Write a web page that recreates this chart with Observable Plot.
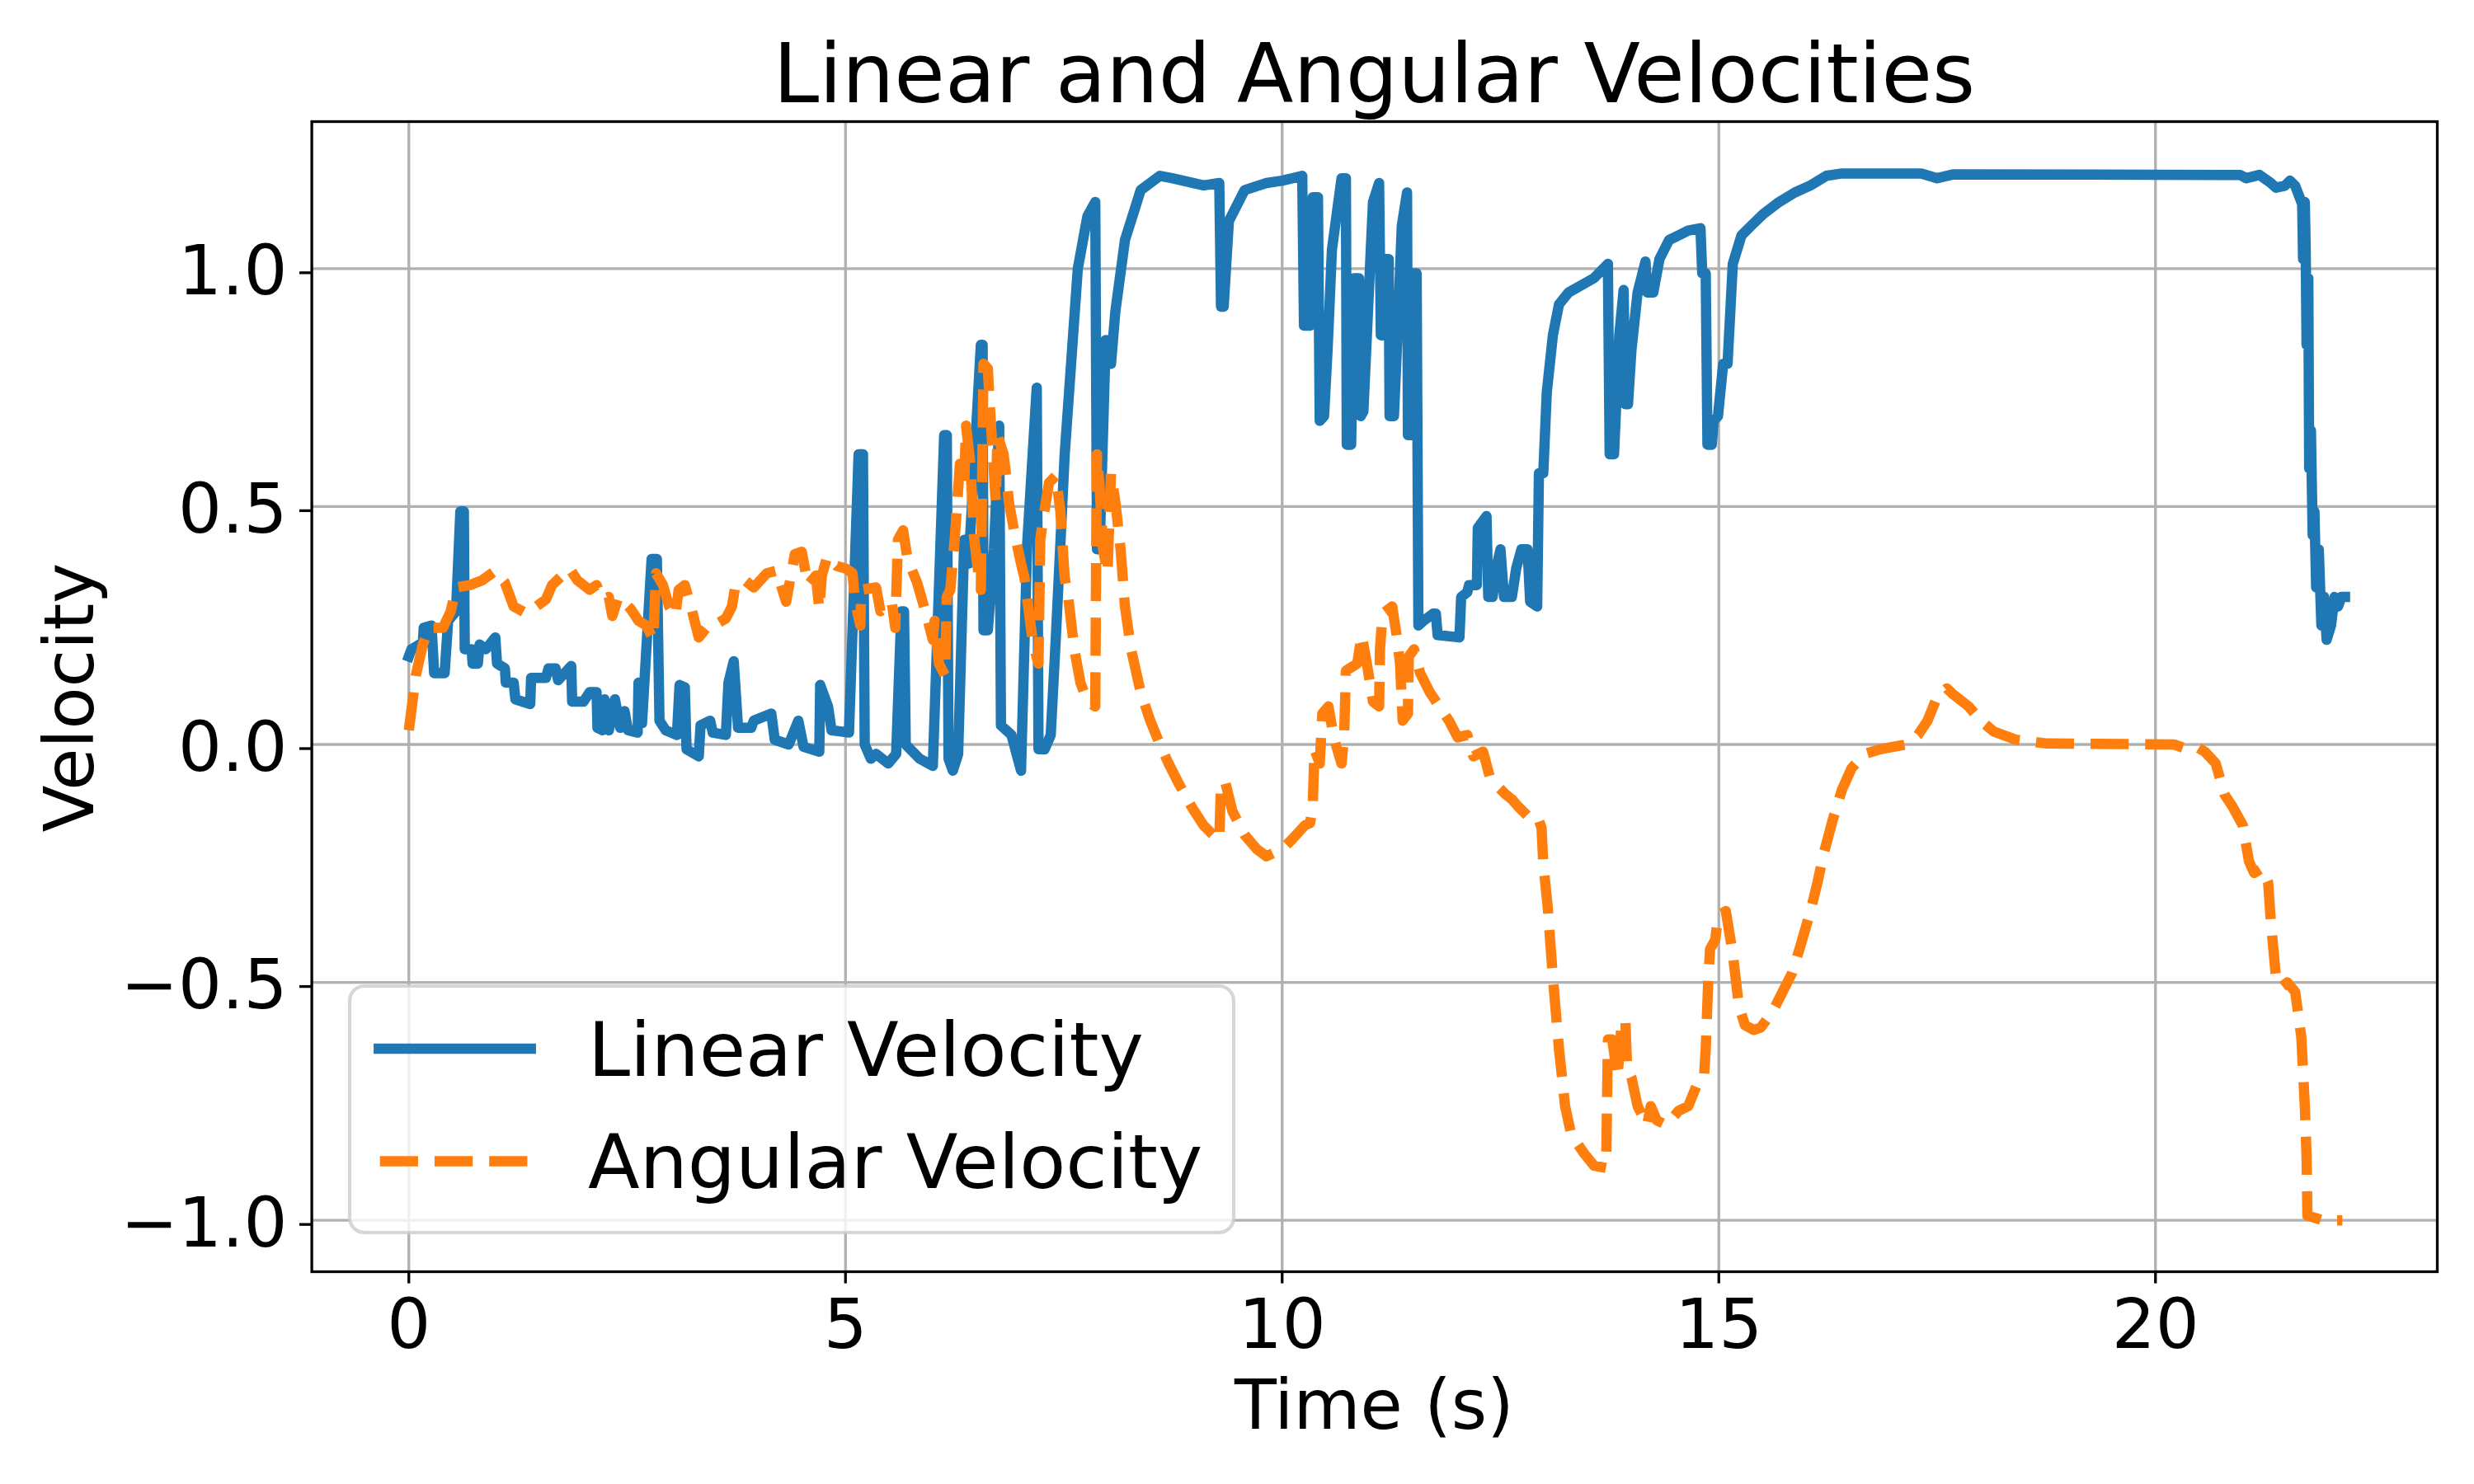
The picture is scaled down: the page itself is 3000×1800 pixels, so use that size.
<!DOCTYPE html>
<html>
<head>
<meta charset="utf-8">
<script src="https://cdn.jsdelivr.net/npm/d3@7"></script>
<script src="https://cdn.jsdelivr.net/npm/@observablehq/plot@0.6"></script>
<style>
  html, body { margin: 0; padding: 0; background: white; }
  svg { display: block; }
</style>
</head>
<body>
<div id="chart"></div>
<script>
const titleText = "Linear and Angular Velocities";
const xLabel = "Time (s)";
const yLabel = "Velocity";
const seriesNames = ["Linear Velocity", "Angular Velocity"];
const seriesColors = ["#1f77b4", "#ff7f0e"];
const xTicks = [0, 5, 10, 15, 20];
const yTicks = [-1.0, -0.5, 0.0, 0.5, 1.0];

const linearTime = [0.00,0.03,0.12,0.16,0.17,0.26,0.29,0.41,0.45,0.54,0.59,0.63,0.64,0.72,0.73,0.79,0.81,0.88,0.99,1.01,1.10,1.11,1.20,1.22,1.39,1.40,1.57,1.60,1.68,1.71,1.86,1.87,2.00,2.07,2.15,2.16,2.22,2.24,2.29,2.36,2.42,2.47,2.51,2.62,2.63,2.67,2.78,2.84,2.87,2.94,3.07,3.10,3.16,3.18,3.32,3.34,3.45,3.48,3.63,3.66,3.72,3.77,3.92,3.95,4.15,4.19,4.35,4.46,4.52,4.70,4.71,4.80,4.84,5.04,5.15,5.20,5.22,5.29,5.35,5.49,5.58,5.64,5.67,5.69,5.85,6.00,6.13,6.16,6.18,6.23,6.29,6.36,6.41,6.55,6.57,6.58,6.63,6.70,6.76,6.78,6.90,7.01,7.08,7.19,7.21,7.28,7.35,7.41,7.51,7.66,7.77,7.86,7.88,7.91,7.98,8.04,8.09,8.20,8.38,8.60,8.74,9.10,9.28,9.30,9.33,9.39,9.57,9.82,10.00,10.23,10.25,10.32,10.35,10.41,10.43,10.48,10.52,10.57,10.68,10.73,10.74,10.79,10.82,10.88,10.90,10.93,10.97,11.04,11.11,11.13,11.16,11.18,11.22,11.23,11.28,11.32,11.37,11.43,11.44,11.48,11.49,11.54,11.56,11.62,11.73,11.76,11.78,12.03,12.05,12.12,12.14,12.23,12.24,12.34,12.36,12.41,12.45,12.50,12.54,12.63,12.68,12.74,12.81,12.84,12.92,12.94,12.99,13.03,13.10,13.17,13.28,13.57,13.73,13.75,13.80,13.86,13.91,13.93,13.96,14.00,14.07,14.16,14.18,14.25,14.32,14.43,14.65,14.79,14.81,14.85,14.87,14.92,14.94,14.99,15.05,15.10,15.16,15.26,15.37,15.51,15.69,15.87,16.05,16.23,16.41,17.32,17.50,17.68,20.75,20.97,21.04,21.19,21.32,21.38,21.48,21.54,21.60,21.65,21.68,21.69,21.71,21.72,21.73,21.75,21.76,21.78,21.80,21.82,21.84,21.87,21.90,21.93,21.96,22.01,22.05,22.09,22.13,22.17];
const linearVel = [0.185,0.20,0.21,0.21,0.245,0.25,0.15,0.15,0.26,0.28,0.49,0.49,0.20,0.20,0.17,0.17,0.21,0.20,0.225,0.17,0.16,0.13,0.13,0.095,0.085,0.14,0.14,0.16,0.16,0.135,0.165,0.09,0.09,0.11,0.11,0.035,0.03,0.095,0.03,0.095,0.035,0.07,0.03,0.025,0.13,0.045,0.39,0.39,0.05,0.03,0.02,0.125,0.12,-0.01,-0.025,0.04,0.05,0.025,0.02,0.13,0.175,0.035,0.035,0.05,0.065,0.01,0.0,0.05,-0.005,-0.015,0.125,0.08,0.03,0.025,0.61,0.61,0.0,-0.03,-0.02,-0.04,-0.02,0.28,0.28,0.0,-0.03,-0.045,0.65,0.65,-0.03,-0.055,-0.02,0.43,0.38,0.84,0.84,0.24,0.24,0.41,0.67,0.04,0.02,-0.055,0.42,0.75,-0.01,-0.01,0.02,0.23,0.61,1.0,1.11,1.14,0.41,0.41,0.85,0.80,0.91,1.06,1.165,1.195,1.19,1.175,1.18,0.92,0.92,1.10,1.165,1.18,1.185,1.195,0.88,0.88,1.15,1.15,0.68,0.69,0.83,1.04,1.19,1.19,0.63,0.63,0.98,0.98,0.69,0.70,0.86,1.14,1.18,0.86,0.86,1.02,1.02,0.69,0.69,0.86,1.09,1.16,0.65,0.65,0.99,0.99,0.25,0.26,0.275,0.275,0.23,0.225,0.31,0.32,0.335,0.335,0.455,0.48,0.31,0.31,0.37,0.41,0.31,0.31,0.37,0.41,0.41,0.30,0.29,0.57,0.57,0.74,0.86,0.925,0.95,0.98,1.01,0.61,0.61,0.86,0.955,0.715,0.715,0.83,0.95,1.015,0.95,0.95,1.02,1.06,1.08,1.085,0.99,0.99,0.63,0.63,0.68,0.69,0.80,0.80,1.01,1.07,1.09,1.115,1.14,1.16,1.175,1.195,1.20,1.20,1.19,1.198,1.197,1.197,1.19,1.197,1.18,1.17,1.174,1.185,1.174,1.15,1.135,1.02,1.14,1.04,0.84,0.98,0.58,0.66,0.44,0.49,0.33,0.41,0.25,0.31,0.22,0.25,0.31,0.29,0.31,0.31];

const angularTime = [0.00,0.08,0.16,0.23,0.39,0.48,0.54,0.70,0.84,0.99,1.10,1.20,1.35,1.57,1.64,1.84,1.93,2.07,2.15,2.22,2.29,2.33,2.40,2.54,2.63,2.72,2.80,2.83,2.91,2.98,3.05,3.09,3.16,3.23,3.32,3.45,3.54,3.63,3.70,3.74,3.85,3.95,4.10,4.21,4.32,4.42,4.50,4.57,4.66,4.70,4.73,4.79,4.90,5.00,5.08,5.11,5.17,5.18,5.35,5.40,5.53,5.57,5.60,5.66,5.71,5.82,5.93,6.00,6.02,6.07,6.14,6.16,6.20,6.25,6.31,6.36,6.38,6.43,6.47,6.50,6.55,6.58,6.63,6.65,6.68,6.72,6.74,6.81,6.85,6.87,6.94,7.01,7.05,7.12,7.15,7.21,7.23,7.26,7.33,7.41,7.46,7.51,7.55,7.62,7.69,7.77,7.86,7.87,7.88,7.91,7.95,8.00,8.04,8.09,8.15,8.20,8.27,8.38,8.49,8.60,8.70,8.81,8.96,9.10,9.21,9.28,9.30,9.35,9.43,9.57,9.71,9.82,10.00,10.11,10.26,10.32,10.35,10.37,10.43,10.46,10.53,10.59,10.68,10.71,10.73,10.86,10.91,10.97,11.04,11.11,11.12,11.15,11.26,11.31,11.35,11.38,11.44,11.45,11.51,11.58,11.69,11.91,12.01,12.12,12.19,12.30,12.38,12.45,12.56,12.63,12.70,12.81,12.92,12.97,12.99,13.04,13.10,13.17,13.24,13.31,13.46,13.57,13.71,13.73,13.78,13.84,13.89,13.93,13.95,14.00,14.07,14.18,14.22,14.29,14.40,14.54,14.65,14.76,14.83,14.85,14.88,14.90,14.96,14.99,15.08,15.16,15.23,15.30,15.40,15.48,15.62,15.73,15.84,15.94,16.05,16.13,16.20,16.31,16.41,16.52,16.67,16.85,17.14,17.28,17.39,17.50,17.61,17.68,17.86,18.00,18.15,18.40,18.76,20.21,20.32,20.46,20.57,20.69,20.79,20.88,21.00,21.07,21.13,21.22,21.29,21.32,21.38,21.44,21.51,21.60,21.67,21.71,21.73,21.74,21.92,22.14];
const angularVel = [0.03,0.145,0.21,0.245,0.245,0.28,0.33,0.335,0.345,0.365,0.34,0.29,0.275,0.305,0.335,0.37,0.345,0.325,0.335,0.305,0.31,0.27,0.31,0.285,0.26,0.25,0.22,0.36,0.335,0.29,0.27,0.325,0.335,0.29,0.225,0.255,0.255,0.265,0.29,0.335,0.345,0.33,0.36,0.365,0.30,0.40,0.405,0.335,0.355,0.285,0.355,0.395,0.375,0.37,0.36,0.30,0.25,0.325,0.33,0.28,0.30,0.245,0.43,0.45,0.39,0.34,0.27,0.22,0.26,0.17,0.145,0.31,0.325,0.43,0.59,0.55,0.67,0.59,0.44,0.39,0.325,0.80,0.79,0.72,0.63,0.51,0.65,0.61,0.55,0.51,0.44,0.38,0.35,0.25,0.21,0.17,0.43,0.47,0.55,0.565,0.49,0.35,0.31,0.20,0.13,0.09,0.08,0.39,0.61,0.54,0.41,0.36,0.57,0.51,0.41,0.29,0.20,0.11,0.05,0.0,-0.04,-0.08,-0.13,-0.17,-0.19,-0.20,-0.08,-0.08,-0.14,-0.19,-0.22,-0.235,-0.22,-0.20,-0.17,-0.165,-0.13,-0.01,-0.04,0.065,0.08,0.015,-0.04,0.02,0.155,0.17,0.23,0.17,0.09,0.08,0.20,0.275,0.29,0.23,0.17,0.05,0.065,0.185,0.20,0.15,0.11,0.05,0.015,0.02,-0.025,-0.015,-0.07,-0.085,-0.105,-0.115,-0.13,-0.15,-0.15,-0.175,-0.25,-0.34,-0.49,-0.64,-0.76,-0.82,-0.86,-0.885,-0.89,-0.62,-0.62,-0.70,-0.58,-0.58,-0.68,-0.70,-0.76,-0.80,-0.76,-0.79,-0.80,-0.77,-0.76,-0.71,-0.70,-0.64,-0.49,-0.43,-0.41,-0.36,-0.35,-0.44,-0.55,-0.59,-0.60,-0.595,-0.56,-0.52,-0.48,-0.42,-0.35,-0.29,-0.23,-0.155,-0.095,-0.05,-0.02,-0.01,0.0,0.02,0.05,0.10,0.118,0.106,0.08,0.05,0.027,0.01,0.002,0.0,-0.007,-0.004,-0.016,-0.04,-0.105,-0.13,-0.17,-0.245,-0.27,-0.26,-0.29,-0.37,-0.49,-0.51,-0.50,-0.52,-0.615,-0.76,-0.865,-0.99,-1.0,-1.0];

const linearData = linearTime.map((t, i) => ({t, v: linearVel[i]}));
const angularData = angularTime.map((t, i) => ({t, v: angularVel[i]}));

const W = 3000, H = 1800;
const mL = 377.6, mR = 45, mT = 147, mB = 258;
const fmt = d => (d < 0 ? "\u2212" : "") + Math.abs(d).toFixed(1);

const svg = Plot.plot({
  width: W,
  height: H,
  marginLeft: mL,
  marginRight: mR,
  marginTop: mT,
  marginBottom: mB,
  style: {fontFamily: "'DejaVu Sans', sans-serif", background: "white", color: "black", overflow: "visible"},
  x: {domain: [-1.111, 23.227]},
  y: {domain: [-1.108, 1.309]},
  marks: [
    Plot.gridX(xTicks, {stroke: "#b0b0b0", strokeOpacity: 1, strokeWidth: 3.3}),
    Plot.gridY(yTicks, {stroke: "#b0b0b0", strokeOpacity: 1, strokeWidth: 3.3}),
    Plot.line(linearData, {x: "t", y: "v", stroke: seriesColors[0], strokeWidth: 12.5, strokeLinejoin: "round", strokeLinecap: "square"}),
    Plot.line(angularData, {x: "t", y: "v", stroke: seriesColors[1], strokeWidth: 12.5, strokeLinejoin: "round", strokeLinecap: "butt", strokeDasharray: "46.25,20"}),
    Plot.frame({stroke: "black", strokeWidth: 3.3}),
    Plot.axisX(xTicks, {tickSize: 14.6, tickPadding: 19, fontSize: 83.3, strokeWidth: 3.3, label: null, tickFormat: d => String(d)}),
    Plot.axisY(yTicks, {tickSize: 14.6, tickPadding: 15, fontSize: 83.3, strokeWidth: 3.3, label: null, tickFormat: fmt, dy: 5})
  ]
});

document.getElementById("chart").appendChild(svg);

const s = d3.select(svg);
const cx = (mL + (W - mR)) / 2;

s.append("text")
  .attr("x", cx).attr("y", 124)
  .attr("text-anchor", "middle")
  .attr("font-size", 100)
  .attr("fill", "black")
  .text(titleText);

s.append("text")
  .attr("x", cx).attr("y", 1733)
  .attr("text-anchor", "middle")
  .attr("font-size", 83.3)
  .attr("fill", "black")
  .text(xLabel);

s.append("text")
  .attr("transform", "translate(112.7,846) rotate(-90)")
  .attr("text-anchor", "middle")
  .attr("font-size", 83.3)
  .attr("fill", "black")
  .text(yLabel);

// legend
const lg = s.append("g");
lg.append("rect")
  .attr("x", 424).attr("y", 1196)
  .attr("width", 1072).attr("height", 299)
  .attr("rx", 18).attr("ry", 18)
  .attr("fill", "white").attr("fill-opacity", 0.8)
  .attr("stroke", "#cccccc").attr("stroke-opacity", 0.8)
  .attr("stroke-width", 4.2);
const rows = [
  {name: seriesNames[0], color: seriesColors[0], y: 1272, base: 1304.6, dash: null, cap: "square"},
  {name: seriesNames[1], color: seriesColors[1], y: 1408.5, base: 1441, dash: "46.25,20", cap: "butt"}
];
rows.forEach(r => {
  const ln = lg.append("line")
    .attr("x1", r.cap === "square" ? 459.3 : 460.7)
    .attr("x2", r.cap === "square" ? 643.7 : 640)
    .attr("y1", r.y).attr("y2", r.y)
    .attr("stroke", r.color).attr("stroke-width", 12.5)
    .attr("stroke-linecap", r.cap);
  if (r.dash) ln.attr("stroke-dasharray", r.dash);
  lg.append("text")
    .attr("x", 713).attr("y", r.base)
    .attr("text-anchor", "start")
    .attr("font-size", 91.7)
    .attr("fill", "black")
    .text(r.name);
});
</script>
</body>
</html>
